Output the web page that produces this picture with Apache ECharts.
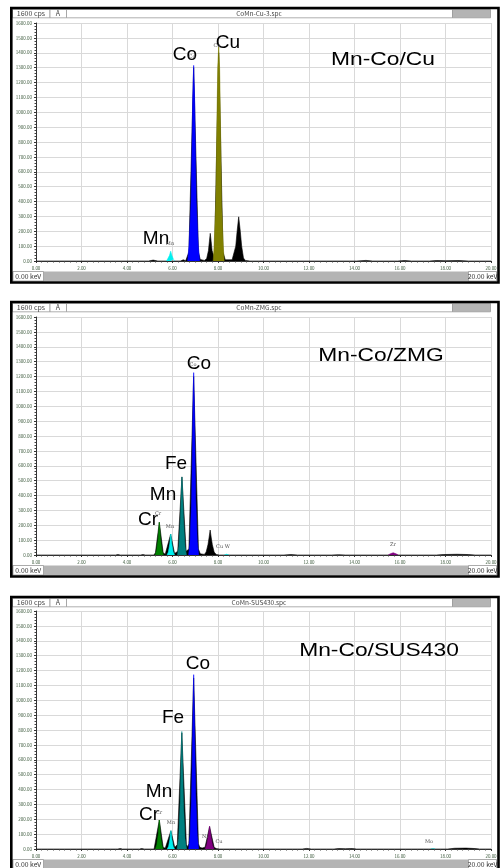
<!DOCTYPE html>
<html><head><meta charset="utf-8">
<script src="https://cdn.jsdelivr.net/npm/echarts@6/dist/echarts.min.js"></script>
<style>html,body{margin:0;padding:0;background:#fff}#c{width:502px;height:868px}</style>
</head><body><div id="c"></div>
<script>
// ---------------- DATA ----------------
const energyMin = 0, energyMax = 20, energyStep = 2;      // keV
const cpsMin = 0, cpsMax = 1600, cpsStep = 100;            // cps
const panelTitles = ['Mn-Co/Cu', 'Mn-Co/ZMG', 'Mn-Co/SUS430'];
const fileNames = ['CoMn-Cu-3.spc', 'CoMn-ZMG.spc', 'CoMn-SUS430.spc'];
const fullScaleText = '1600 cps';
const windowText = 'A';
const leftEnergyText = '0.00 keV';
const rightEnergyText = '20.00 keV';

// Panel 1 : Mn-Co/Cu   ([keV, cps])
const cuBackground = [[0,0],[4.95,0],[5.15,6],[5.35,0],[6.35,0],[6.47,8],[6.58,2],[6.64,10],[6.72,60],[6.93,1300],[7.14,60],[7.22,10],[7.40,4],[7.50,15],[7.58,70],[7.62,130],[7.66,186],[7.70,130],[7.74,70],[7.82,30],[7.85,60],[8.03,1400],[8.22,60],[8.32,8],[8.62,8],[8.70,20],[8.78,100],[8.84,200],[8.91,297],[8.98,200],[9.04,100],[9.12,20],[9.20,4],[9.40,0],[14.1,0],[14.5,4],[14.8,0],[15.9,0],[16.2,3],[16.5,0],[17.3,0],[17.6,3],[18.0,2],[18.6,3],[19.0,0],[20,0]];
const cuMnKa = [[5.74,0],[5.80,12],[5.87,38],[5.92,66],[5.97,38],[6.04,12],[6.10,0]];
const cuCoKa = [[6.665,0],[6.725,100],[6.815,400],[6.87,900],[6.89,1100],[6.93,1315],[6.97,1100],[6.99,900],[7.045,400],[7.135,100],[7.195,0]];
const cuCuKa = [[7.79,0],[7.83,100],[7.905,400],[7.95,900],[7.99,1300],[8.03,1440],[8.07,1300],[8.11,900],[8.155,400],[8.23,100],[8.27,0]];

// Panel 2 : Mn-Co/ZMG
const zmgBackground = [[0,0],[3.5,0],[3.6,3],[3.7,0],[4.6,0],[4.7,3],[4.8,0],[5.18,0],[5.25,15],[5.42,220],[5.59,15],[5.68,5],[5.75,10],[5.92,141],[6.09,10],[6.16,8],[6.23,25],[6.415,525],[6.60,25],[6.66,12],[6.72,40],[6.93,1200],[7.14,40],[7.22,8],[7.40,4],[7.48,20],[7.56,70],[7.61,120],[7.655,168],[7.70,120],[7.75,70],[7.83,20],[7.92,4],[8.05,0],[10.9,0],[11.2,3],[11.5,0],[13.0,0],[13.3,2],[13.6,0],[17.6,0],[17.9,3],[18.5,5],[19.0,3],[19.3,0],[20,0]];
const zmgCrKa = [[5.24,0],[5.30,30],[5.37,110],[5.42,220],[5.47,110],[5.54,30],[5.60,0]];
const zmgMnKa = [[5.76,0],[5.82,20],[5.88,75],[5.925,141],[5.97,75],[6.03,20],[6.09,0]];
const zmgFeKa = [[6.22,0],[6.28,60],[6.35,250],[6.385,420],[6.415,525],[6.445,420],[6.48,250],[6.55,60],[6.61,0]];
const zmgCoKa = [[6.71,0],[6.77,90],[6.84,380],[6.88,800],[6.905,1050],[6.93,1226],[6.955,1050],[6.98,800],[7.02,380],[7.09,90],[7.15,0]];
const zmgWLa = [[8.28,0],[8.38,5],[8.48,0]];
const zmgZrKa = [[15.48,0],[15.58,8],[15.70,15],[15.82,8],[15.92,0]];

// Panel 3 : Mn-Co/SUS430
const susBackground = [[0,0],[3.6,0],[3.7,3],[3.8,0],[4.55,0],[4.65,3],[4.75,0],[5.19,0],[5.25,12],[5.42,195],[5.59,12],[5.68,5],[5.76,10],[5.93,123],[6.10,10],[6.15,10],[6.21,30],[6.41,780],[6.61,30],[6.67,15],[6.72,35],[6.93,1150],[7.14,35],[7.20,12],[7.30,6],[7.43,12],[7.63,150],[7.83,12],[7.92,3],[8.05,0],[11.7,0],[11.9,4],[12.1,0],[13.1,0],[13.3,3],[13.6,2],[13.9,3],[14.1,0],[18.1,0],[18.4,5],[18.9,6],[19.3,3],[19.5,0],[20,0]];
const susCrKa = [[5.25,0],[5.31,28],[5.375,100],[5.42,195],[5.465,100],[5.53,28],[5.59,0]];
const susMnKa = [[5.77,0],[5.83,18],[5.885,65],[5.93,123],[5.975,65],[6.03,18],[6.09,0]];
const susFeKa = [[6.20,0],[6.27,70],[6.34,320],[6.38,620],[6.41,790],[6.44,620],[6.48,320],[6.55,70],[6.62,0]];
const susCoKa = [[6.71,0],[6.77,90],[6.84,370],[6.885,780],[6.91,1000],[6.93,1172],[6.95,1000],[6.975,780],[7.02,370],[7.09,90],[7.15,0]];
const susNiKa = [[7.43,0],[7.50,25],[7.57,85],[7.63,154],[7.69,85],[7.76,25],[7.83,0]];
const susMoKa = [[17.35,0],[17.45,2],[17.55,0]];

const panelSeries = [
  [['bg', cuBackground], ['Mn', cuMnKa], ['Co', cuCoKa], ['Cu', cuCuKa]],
  [['bg', zmgBackground], ['Cr', zmgCrKa], ['Mn', zmgMnKa], ['Fe', zmgFeKa], ['Co', zmgCoKa], ['W', zmgWLa], ['Zr', zmgZrKa]],
  [['bg', susBackground], ['Cr', susCrKa], ['Mn', susMnKa], ['Fe', susFeKa], ['Co', susCoKa], ['Ni', susNiKa], ['Mo', susMoKa]]
];

// peak labels (text)
const bigLabels = [['Co','Cu','Mn'], ['Co','Fe','Mn','Cr'], ['Co','Fe','Mn','Cr']];
const smallLabels = [['Co','Cu','Mn'], ['Co','Cr','Mn','Cu W','Zr'], ['Cr','Mn','Ni','Cu','Mo']];

// ---------------- STYLE / LAYOUT ----------------
const elementColors = {bg:'#000000', Mn:'#00f0f0', Co:'#0000ff', Cu:'#808000', Cr:'#008000', Fe:'#008080', W:'#00e0e0', Zr:'#800080', Ni:'#800080', Mo:'#00c0c0'};
const frameTop = [8, 302, 597];
const plotTop = [23, 317, 611];
const plotHeight = 238;
const plotLeft = 36, plotRight = 11;
const bigLabelPos = [
  [[185,55],[228,43],[156,239]],
  [[199,364],[176,464],[163,495],[148,520]],
  [[198,664],[173,718],[159,792],[149,815]]
];
const smallLabelPos = [
  [[192,57],[217,46],[170,244]],
  [[193,365],[158,514],[170,527],[223,547],[393,545]],
  [[159,813],[171,823],[205,837],[219,842],[429,842]]
];
const titlePos = [[383,60],[381,356],[379,651]];

const chart = echarts.init(document.getElementById('c'), null, {renderer:'canvas'});
const fmt = v => v.toFixed(2);
const grids = [], xAxes = [], yAxes = [], series = [], graphics = [];
const labelFont = '"Liberation Sans", Arial, sans-serif';
const hdrFont = '"Noto Sans CJK JP", "DejaVu Sans", sans-serif';

for (let i = 0; i < 3; i++) {
  grids.push({left: plotLeft, right: plotRight, top: plotTop[i], height: plotHeight, containLabel: false});
  xAxes.push({
    type:'value', gridIndex:i, min:energyMin, max:energyMax, interval:energyStep,
    axisLine:{show:true, onZero:false, lineStyle:{color:'#333', width:1}},
    axisTick:{show:true, length:2, lineStyle:{color:'#333'}},
    minorTick:{show:true, splitNumber:8, length:1.5, lineStyle:{color:'#444'}},
    axisLabel:{fontSize:4.5, color:'#3d5a3d', margin:5, formatter: fmt, fontFamily: hdrFont},
    splitLine:{show:true, lineStyle:{color:'#d9d9d9', width:1}}
  });
  yAxes.push({
    type:'value', gridIndex:i, min:cpsMin, max:cpsMax, interval:cpsStep,
    axisLine:{show:true, lineStyle:{color:'#333', width:1}},
    axisTick:{show:true, length:2, lineStyle:{color:'#333'}},
    minorTick:{show:true, splitNumber:5, length:1.5, lineStyle:{color:'#444'}},
    axisLabel:{fontSize:4.5, color:'#3d5a3d', margin:4, formatter: fmt, fontFamily: hdrFont},
    splitLine:{show:true, lineStyle:{color:'#d9d9d9', width:1}}
  });
  panelSeries[i].forEach(([el, data]) => {
    const c = elementColors[el];
    series.push({
      type:'line', xAxisIndex:i, yAxisIndex:i, data: data, symbol:'none', silent:true,
      lineStyle:{color:c, width:0.6}, areaStyle:{color:c, opacity:1}, z: el === 'bg' ? 2 : 3
    });
  });

  const T = frameTop[i], P = plotTop[i];
  const hy = T + 1.5, hh = 8.3;
  // header boxes
  graphics.push({type:'rect', shape:{x:12.5, y:hy, width:37.5, height:hh}, style:{fill:'#fff', stroke:'#9a9a9a', lineWidth:0.8}, z:50});
  graphics.push({type:'rect', shape:{x:50, y:hy, width:16.5, height:hh}, style:{fill:'#fff', stroke:'#9a9a9a', lineWidth:0.8}, z:50});
  graphics.push({type:'rect', shape:{x:66.5, y:hy, width:386, height:hh}, style:{fill:'#fff', stroke:'#9a9a9a', lineWidth:0.8}, z:50});
  graphics.push({type:'rect', shape:{x:452.5, y:hy, width:38, height:hh}, style:{fill:'#b4b4b4', stroke:'#9a9a9a', lineWidth:0.8}, z:50});
  graphics.push({type:'text', x:31, y:hy+hh/2, style:{text:fullScaleText, fill:'#444', font:'7px '+hdrFont, align:'center', verticalAlign:'middle'}, z:51});
  graphics.push({type:'text', x:58, y:hy+hh/2, style:{text:windowText, fill:'#444', font:'7px '+hdrFont, align:'center', verticalAlign:'middle'}, z:51});
  graphics.push({type:'text', x:259, y:hy+hh/2, style:{text:fileNames[i], fill:'#444', font:'6.5px '+hdrFont, align:'center', verticalAlign:'middle'}, z:51});
  // footer
  const fy = P + 248.5, fh = 9.5;
  graphics.push({type:'rect', shape:{x:12, y:fy, width:485, height:fh}, style:{fill:'#b4b4b4'}, z:50});
  graphics.push({type:'rect', shape:{x:13, y:fy, width:30.5, height:fh}, style:{fill:'#fff', stroke:'#9a9a9a', lineWidth:0.8}, z:51});
  graphics.push({type:'rect', shape:{x:468.5, y:fy, width:28, height:fh}, style:{fill:'#fff', stroke:'#9a9a9a', lineWidth:0.8}, z:51});
  graphics.push({type:'text', x:28.3, y:fy+fh/2, style:{text:leftEnergyText, fill:'#333', font:'6.8px '+hdrFont, align:'center', verticalAlign:'middle'}, z:52});
  graphics.push({type:'text', x:482.5, y:fy+fh/2, style:{text:rightEnergyText, fill:'#333', font:'6.8px '+hdrFont, align:'center', verticalAlign:'middle'}, z:52});
  // frame
  graphics.push({type:'rect', shape:{x:11.3, y:T, width:487.2, height:P + 259.5 - T}, style:{fill:null, stroke:'#000', lineWidth:2.6}, z:60});
  // title
  graphics.push({type:'text', x:titlePos[i][0], y:titlePos[i][1], scaleX:1.2, style:{text:panelTitles[i], fill:'#000', font:'19px '+labelFont, align:'center', verticalAlign:'middle'}, z:55});
  // peak labels
  bigLabels[i].forEach((t, k) => {
    graphics.push({type:'text', x:bigLabelPos[i][k][0], y:bigLabelPos[i][k][1], style:{text:t, fill:'#000', font:'19px '+labelFont, align:'center', verticalAlign:'middle'}, z:55});
  });
  smallLabels[i].forEach((t, k) => {
    graphics.push({type:'text', x:smallLabelPos[i][k][0], y:smallLabelPos[i][k][1], style:{text:t, fill:'#555', font:'5px "DejaVu Serif", serif', align:'center', verticalAlign:'middle'}, z:56});
  });
}

chart.setOption({
  animation:false,
  backgroundColor:'#ffffff',
  grid: grids, xAxis: xAxes, yAxis: yAxes, series: series, graphic: graphics
});
</script></body></html>
